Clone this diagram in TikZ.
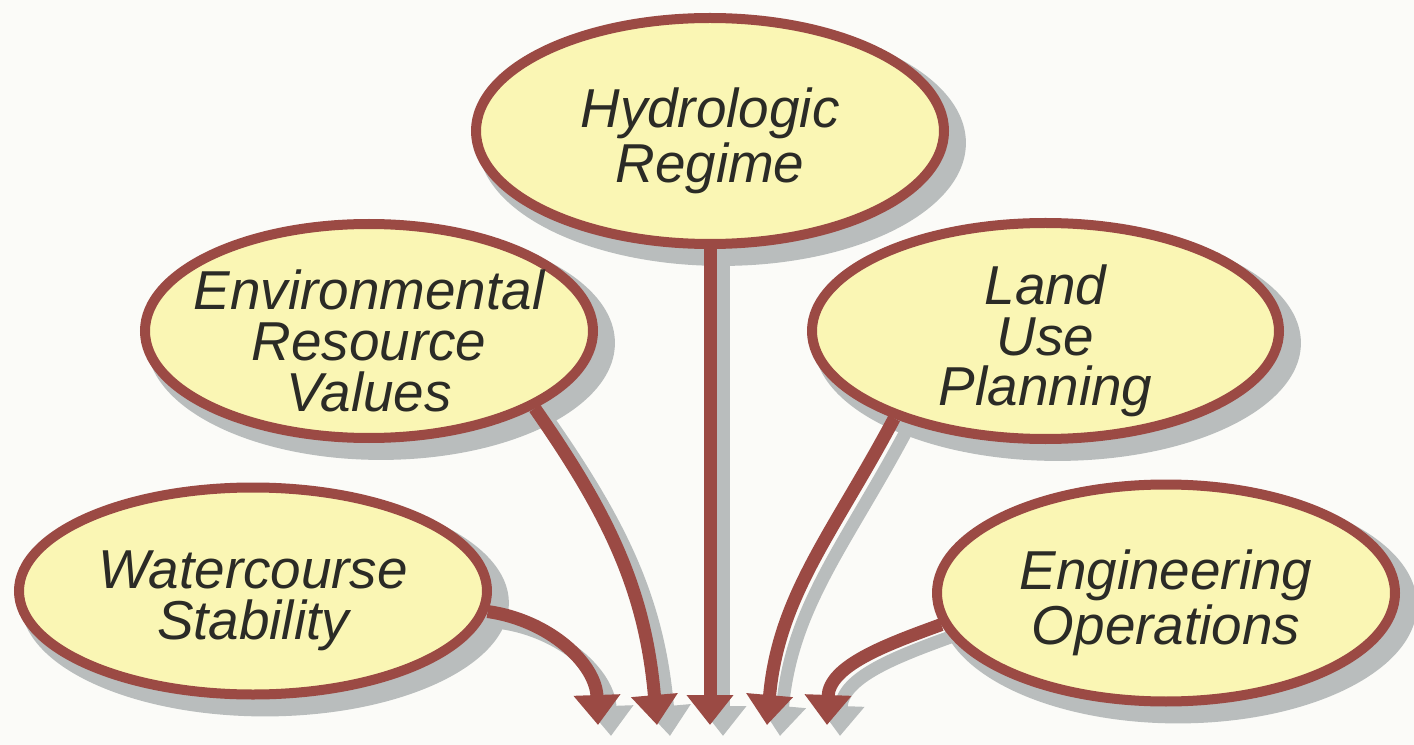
\documentclass[tikz,border=0pt]{standalone}
\usepackage{fontspec}
\setmainfont{Liberation Sans}
\usetikzlibrary{shapes.geometric,arrows.meta,calc}
\definecolor{bgc}{RGB}{251,251,248}
\definecolor{fillc}{RGB}{250,246,180}
\definecolor{ringc}{RGB}{155,74,68}
\definecolor{shadowc}{RGB}{185,189,189}
\definecolor{textc}{RGB}{43,43,38}
\pgfdeclarelayer{bglayer}
\pgfdeclarelayer{shadowlayer}
\pgfdeclarelayer{arrowlayer}
\pgfsetlayers{bglayer,shadowlayer,arrowlayer,main}
\tikzset{
  bubble/.style={ellipse, draw=ringc, line width=0.1cm, fill=fillc, inner sep=0pt},
  bubbletext/.style={align=center, text=textc, inner sep=0pt, yshift=-0.1cm,
    font=\fontsize{15.6}{14.4}\selectfont\itshape},
  flow/.style={line width=0.13cm, -{Triangle[width=0.45cm,length=0.3cm]}},
  flowshadow/.style={flow, draw=shadowc, transform canvas={shift={(0.13,-0.11)}}},
  flowmain/.style={flow, draw=ringc}
}
\begin{document}
\begin{tikzpicture}
\begin{pgfonlayer}{bglayer}
\fill[bgc] (0,0) rectangle (14.14,-7.45);
\end{pgfonlayer}
\useasboundingbox (0,0) rectangle (14.14,-7.45);

\node[bubble, minimum width=4.68cm, minimum height=2.26cm,
  label={[bubbletext]center:{Hydrologic\\Regime}}] (hr) at (7.10,-1.31) {};
\node[bubble, minimum width=4.48cm, minimum height=2.14cm,
  label={[bubbletext]center:{Environmental\\Resource\\Values}}] (erv) at (3.69,-3.31) {};
\node[bubble, minimum width=4.67cm, minimum height=2.16cm,
  label={[bubbletext]center:{Land\\Use\\Planning}}] (lup) at (10.455,-3.31) {};
\node[bubble, minimum width=4.68cm, minimum height=2.07cm,
  label={[bubbletext]center:{Watercourse\\Stability}}] (ws) at (2.53,-5.91) {};
\node[bubble, minimum width=4.58cm, minimum height=2.17cm,
  label={[bubbletext]center:{Engineering\\Operations}}] (eo) at (11.66,-5.93) {};

\coordinate (c1) at (5.98,-7.25);
\coordinate (c2) at (6.57,-7.25);
\coordinate (c3) at (7.10,-7.25);
\coordinate (c4) at (7.67,-7.25);
\coordinate (c5) at (8.27,-7.25);

\begin{pgfonlayer}{shadowlayer}
\foreach \nm in {hr,erv,lup,ws,eo}{
  \path let \p1=($(\nm.east)-(\nm.center)$), \p2=($(\nm.north)-(\nm.center)$) in
    [fill=shadowc] ([shift={(0.12,-0.12)}]\nm.center) ellipse [x radius=\x1+1.4pt, y radius=\y2+1.4pt];
}
\end{pgfonlayer}

\begin{pgfonlayer}{arrowlayer}
\foreach \s in {flowshadow,flowmain}{
  \draw[\s] (ws.-5) to[out=-8, in=92] (c1);
  \draw[\s] (erv.-25) to[out=-55, in=95] (c2);
  \draw[\s] (hr.south) -- (c3);
  \draw[\s] (lup.-150) to[out=-118, in=85] (c4);
  \draw[\s] (eo.188) to[out=200, in=88] (c5);
}
\end{pgfonlayer}
\end{tikzpicture}
\end{document}
